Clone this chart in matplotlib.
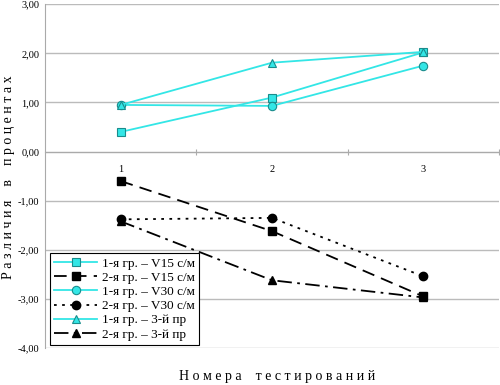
import numpy as np
import matplotlib
matplotlib.use('Agg')
from matplotlib import pyplot as plt

plt.rcParams['font.family'] = ['Liberation Serif', 'DejaVu Serif']

tests = [1, 2, 3]
labels = ['1-я гр. – V15 с/м', '2-я гр. – V15 с/м',
          '1-я гр. – V30 с/м', '2-я гр. – V30 с/м',
          '1-я гр. – 3-й пр', '2-я гр. – 3-й пр']

g1_v15 = [0.40, 1.10, 2.02]
g2_v15 = [-0.60, -1.62, -2.95]
g1_v30 = [0.95, 0.93, 1.75]
g2_v30 = [-1.38, -1.35, -2.54]
g1_pr3 = [0.95, 1.81, 2.03]
g2_pr3 = [-1.42, -2.62, -2.97]

CYAN = '#33E6E6'
EDGE = '#1A8C8C'

fig = plt.figure(figsize=[5, 3.85], dpi=100)
ax = fig.add_axes([0.09, 0.096, 0.908, 0.893])

ax.plot(tests, g1_v15, color=CYAN, lw=1.3, marker='s', ms=6, mfc=CYAN, mec=EDGE, mew=0.8, label=labels[0])
ax.plot(tests, g2_v15, color='black', lw=1.3, ls=(0, (7, 4)), marker='s', ms=6, mfc='black', mec='black', label=labels[1])
ax.plot(tests, g1_v30, color=CYAN, lw=1.3, marker='o', ms=6, mfc=CYAN, mec=EDGE, mew=0.8, label=labels[2])
ax.plot(tests, g2_v30, color='black', lw=1.3, ls=(0, (1.5, 3)), marker='o', ms=6, mfc='black', mec='black', label=labels[3])
ax.plot(tests, g1_pr3, color=CYAN, lw=1.3, marker='^', ms=6, mfc=CYAN, mec=EDGE, mew=0.8, label=labels[4])
ax.plot(tests, g2_pr3, color='black', lw=1.3, ls=(0, (8, 3, 1.5, 3)), marker='^', ms=6, mfc='black', mec='black', label=labels[5])

ax.set_xlim(0.5, 3.5)
ax.set_ylim(-4, 3)
ax.set_yticks(np.arange(-4, 3.01, 1))
ax.set_yticklabels([f'{v:.2f}'.replace('.', ',') for v in np.arange(-4, 3.01, 1)], fontsize=7.5)
ax.yaxis.grid(True, color='#BBBBBB', lw=1)
ax.set_axisbelow(True)

for s in ['top', 'right']:
    ax.spines[s].set_visible(False)
ax.spines['left'].set_color('#AAAAAA')
ax.spines['bottom'].set_position(('data', 0))
ax.spines['bottom'].set_color('#AAAAAA')
ax.tick_params(axis='y', length=0, pad=4)
ax.set_xticks([1.5, 2.5, 3.5])
ax.set_xticks(tests, minor=True)
ax.set_xticklabels([])
ax.set_xticklabels([str(t) for t in tests], minor=True, fontsize=7.5)
ax.tick_params(axis='x', which='major', direction='inout', length=5, color='#AAAAAA')
ax.tick_params(axis='x', which='minor', length=0, pad=10)

fig.text(0.018, 0.54, 'Р а з л и ч и я    в    п р о ц е н т а х', fontsize=10,
         rotation=90, ha='center', va='center')
fig.text(0.555, 0.012, 'Н о м е р а    т е с т и р о в а н и й', fontsize=10, ha='center')

leg = ax.legend(loc='lower left', bbox_to_anchor=(0.012, 0.01), fontsize=9.5, frameon=True,
                fancybox=False, edgecolor='black', framealpha=1, handlelength=3.2,
                borderpad=0.3, labelspacing=0.15, handletextpad=0.4, borderaxespad=0)
leg.get_frame().set_linewidth(0.8)

fig.savefig('out.png')
